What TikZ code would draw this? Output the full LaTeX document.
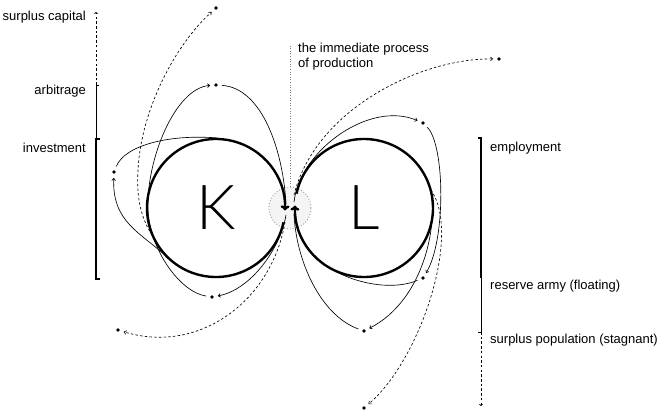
\documentclass[tikz,border=0pt]{standalone}
\usepackage{fontspec}
\setmainfont{Liberation Sans}
\newfontfamily\klfont{Lato Light}
\usetikzlibrary{arrows.meta,calc}
\begin{document}
\begin{tikzpicture}[x=1pt,y=-1pt,
  thinline/.style={line width=0.65pt},
  dashline/.style={line width=0.65pt, dash pattern=on 2.5pt off 2.2pt},
  dot/.style={circle, fill=black, inner sep=0pt, minimum size=3.6pt},
  tip/.style={-{To[length=2.8pt,width=4.2pt]}, shorten >=4pt},
  lbl/.style={font=\fontsize{13}{14}\selectfont, inner sep=0pt},
  circ/.style={line width=2.4pt, -{To[length=5pt,width=9pt]}},
  bthick/.style={line width=2.2pt},
  bthin/.style={line width=0.8pt},
  bdash/.style={line width=0.8pt, dash pattern=on 2.5pt off 2.2pt}]
\useasboundingbox (0,0) rectangle (659,412);
% centres
\coordinate (kc) at (216,208);
\coordinate (lc) at (364,208);
\coordinate (c) at (290,208);
% process circle
\node[circle, draw=gray!80, dotted, line width=0.9pt, fill=gray!9, minimum size=42pt, inner sep=0pt] (pc) at (c) {};
\coordinate (ptop) at (290,44);
\draw[gray, dotted, line width=0.6pt] (pc.north) -- (ptop);
% dots
\node[dot] (sc) at (216,8) {};
\node[dot] (ar) at (216,85) {};
\node[dot] (in) at (114,172) {};
\node[dot] (kb) at (212,297) {};
\node[dot] (ll) at (118,330) {};
\node[dot] (ur) at (499,59) {};
\node[dot] (em) at (423,123) {};
\node[dot] (ra) at (423,278) {};
\node[dot] (sp) at (364,331) {};
\node[dot] (lb) at (364,408) {};
% free ends
\coordinate (a1) at (286,204);
\coordinate (a3) at (286,215);
\coordinate (a4) at (167,257);
\coordinate (a5) at (218,138);
\coordinate (a6) at (155,239);
\coordinate (a7) at (285,222);
\coordinate (a8) at (294,195);
\coordinate (a9) at (294,202);
\coordinate (a11) at (335,271);
\coordinate (a12) at (429,184);
\coordinate (a13) at (294,214);
\coordinate (a14) at (431,190);
% left curves
\draw[thinline, shorten <=4pt] (ar) .. controls (262,88) and (283,150) .. (a1);
\draw[thinline, tip, shorten <=4pt] (kb) .. controls (180,292) and (150,250) .. (148,210) .. controls (146,160) and (175,88) .. (ar);
\draw[thinline, tip] (a3) .. controls (280,250) and (250,290) .. (kb);
\draw[thinline, tip] (a4) .. controls (140,232) and (112,222) .. (in);
\draw[thinline, shorten <=4pt] (in) .. controls (125,145) and (170,134) .. (a5);
\draw[dashline, tip] (a6) .. controls (142,222) and (136,200) .. (138,170) .. controls (141,110) and (175,45) .. (sc);
\draw[dashline, tip] (a7) .. controls (272,300) and (200,355) .. (ll);
% right curves
\draw[dashline, tip] (a8) .. controls (315,110) and (420,58) .. (ur);
\draw[thinline, tip] (a9) .. controls (300,150) and (370,100) .. (em);
\draw[thinline, tip, shorten <=4pt] (em) .. controls (445,145) and (446,240) .. (ra);
\draw[thinline, shorten <=4pt] (ra) .. controls (395,290) and (360,285) .. (a11);
\draw[thinline, tip] (a12) .. controls (440,220) and (425,300) .. (sp);
\draw[thinline, shorten <=4pt] (sp) .. controls (320,315) and (296,260) .. (a13);
\draw[dashline, tip] (a14) .. controls (462,235) and (420,360) .. (lb);
% main circles
\draw[circ] ($(kc)+(-12:69pt)$) arc[start angle=-12, end angle=-362, radius=69pt];
\draw[circ] ($(lc)+(168:69pt)$) arc[start angle=168, end angle=-182, radius=69pt];
\node[font=\klfont\fontsize{62}{62}\selectfont, inner sep=0pt] (K) at (kc) {K};
\node[font=\klfont\fontsize{62}{62}\selectfont, inner sep=0pt] (L) at (lc) {L};
% left bracket
\coordinate (lb0) at (96,12);
\coordinate (lb1) at (96,85);
\coordinate (lb2) at (96,139);
\coordinate (lb3) at (96,279);
\draw[bdash, -{To[length=2pt,width=3.5pt]}] (lb1) -- (lb0);
\draw[bthin] (lb2) -- (lb1) -- ++(3,0);
\draw[bthick] ($(lb2)+(3.5,0)$) -- (lb2) -- (lb3) -- ++(3.5,0);
% right bracket
\coordinate (rb0) at (481,138);
\coordinate (rb1) at (481,278);
\coordinate (rb2) at (481,332);
\coordinate (rb3) at (481,406);
\draw[bthick] ($(rb0)+(-3.5,0)$) -- (rb0) -- (rb1);
\draw[bthin] (rb1) -- (rb2) -- ++(-3,0);
\draw[bdash, -{To[length=2pt,width=3.5pt]}] (rb2) -- (rb3);
% labels
\node[lbl, anchor=base east] (tsc) at (86,21) {surplus capital};
\node[lbl, anchor=base east] (tar) at (86,95) {arbitrage};
\node[lbl, anchor=base east] (tin) at (86,152) {investment};
\node[lbl, anchor=base west] (tem) at (490,151) {employment};
\node[lbl, anchor=base west] (tra) at (490,289) {reserve army (floating)};
\node[lbl, anchor=base west] (tsp) at (490,343) {surplus population (stagnant)};
\node[lbl, anchor=base west] (tp1) at (298,53) {the immediate process};
\node[lbl, anchor=base west] (tp2) at (298,67) {of production};
\end{tikzpicture}
\end{document}
